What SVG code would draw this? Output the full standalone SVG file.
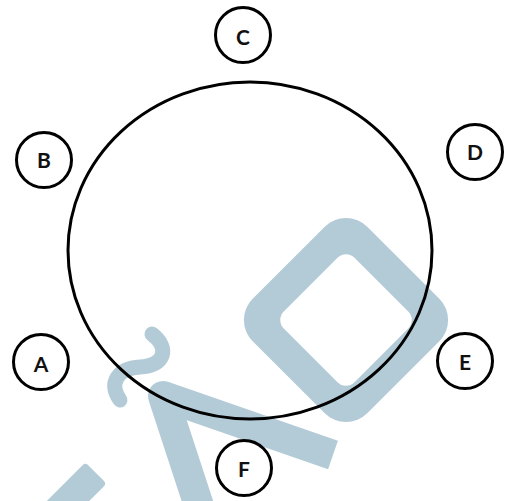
<svg xmlns="http://www.w3.org/2000/svg" width="507" height="501" viewBox="0 0 507 501">
<style>
.wm{fill:none;stroke:#b3cbd7;stroke-linejoin:round}
.wmf{fill:#b3cbd7;fill-rule:evenodd}
.node circle{fill:#fff;stroke:#000;stroke-width:3}
.node text{font-family:Lato,"Open Sans","Liberation Sans",sans-serif;font-weight:bold;font-size:21px;fill:#111;text-anchor:middle;dominant-baseline:central}
.ring{fill:none;stroke:#000;stroke-width:3}
</style>
<rect width="507" height="501" fill="#fff"/>
<g id="watermark">
<path class="wmf" transform="translate(346 320) rotate(45)" d="M-51 -81H51A30 30 0 0 1 81 -51V51A30 30 0 0 1 51 81H-51A30 30 0 0 1 -81 51V-51A30 30 0 0 1 -51 -81Z M-38 -50H38A12 12 0 0 1 50 -38V38A12 12 0 0 1 38 50H-38A12 12 0 0 1 -50 38V-38A12 12 0 0 1 -38 -50Z"/>
<path class="wm" d="M333 455 L163 396 L201 512" stroke-width="30" stroke-linecap="butt"/>
<rect x="-15" y="0" width="30" height="90" rx="4" fill="#b3cbd7" transform="translate(96 473) rotate(45)"/>
<path class="wm" d="M152 334 C170 348 165 366 140 367 C118 368 108 383 120 400" stroke-width="15" stroke-linecap="round"/>
</g>
<g id="connectors">
<ellipse id="big-circle" class="ring" cx="250" cy="250.5" rx="182" ry="168.5"/>
</g>
<g id="node-A" class="node"><circle cx="41" cy="362" r="27.5"/><text x="41" y="363">A</text></g>
<g id="node-B" class="node"><circle cx="44" cy="160" r="27.5"/><text x="44" y="159">B</text></g>
<g id="node-C" class="node"><circle cx="243" cy="35" r="27.5"/><text x="243" y="36">C</text></g>
<g id="node-D" class="node"><circle cx="475" cy="152" r="27.5"/><text x="475" y="151">D</text></g>
<g id="node-E" class="node"><circle cx="465" cy="361" r="27.5"/><text x="465" y="361">E</text></g>
<g id="node-F" class="node"><circle cx="244" cy="468" r="27.5"/><text x="244" y="468">F</text></g>
</svg>
